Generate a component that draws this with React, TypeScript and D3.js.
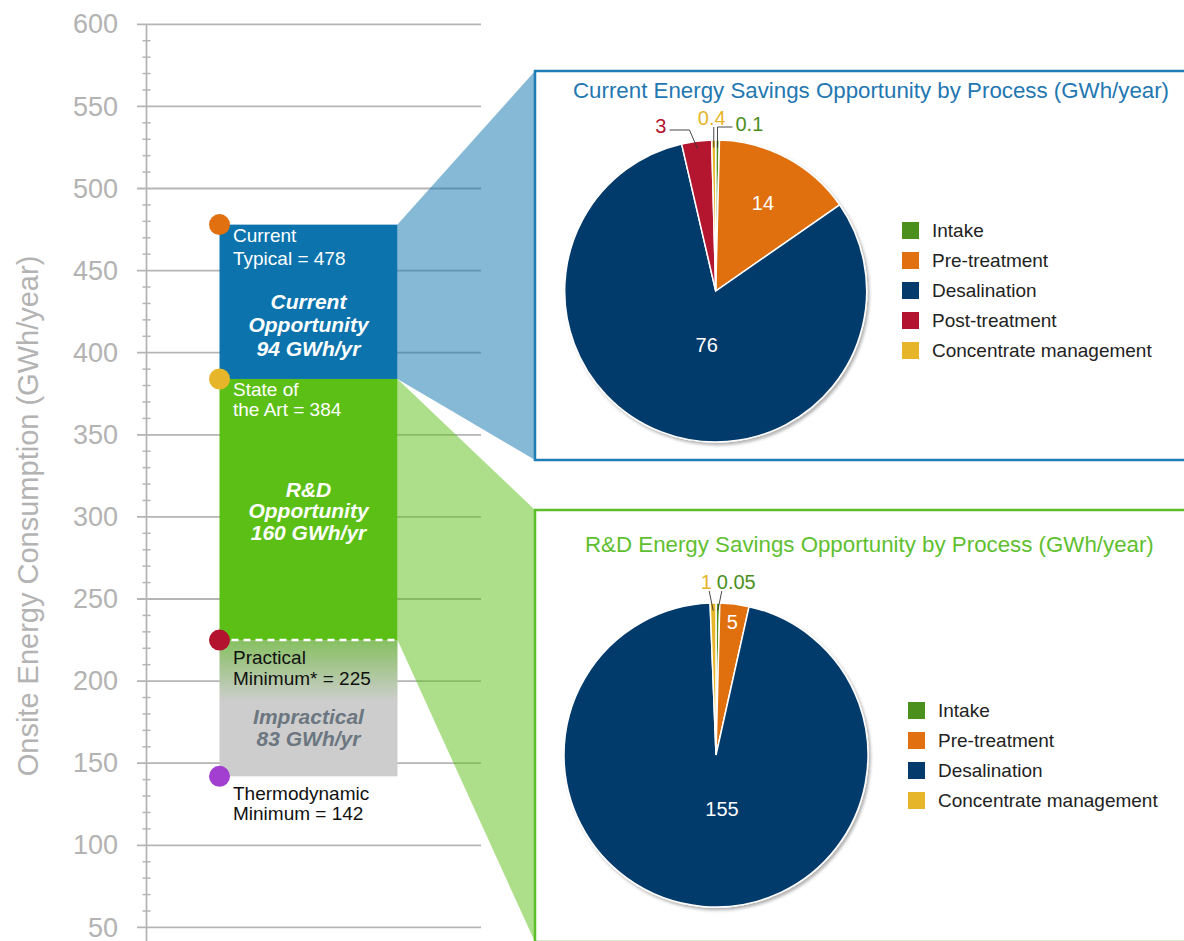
import React from "react";
import * as d3 from "d3";

// left scale
const yTicks = [50, 100, 150, 200, 250, 300, 350, 400, 450, 500, 550, 600];
const yMinorStep = 10;

// bar levels (GWh/year)
const levelKeys = ["current", "stateOfArt", "practical", "thermo"];
const levelValues = [478, 384, 225, 142];
const levelLines = [
  ["Current", "Typical = 478"],
  ["State of", "the Art = 384"],
  ["Practical", "Minimum* = 225"],
  ["Thermodynamic", "Minimum = 142"],
];
const bandLines = [
  ["Current", "Opportunity", "94 GWh/yr"],
  ["R&D", "Opportunity", "160 GWh/yr"],
  ["Impractical", "83 GWh/yr"],
];

// pies
const currentProcesses = ["Intake", "Pre-treatment", "Desalination", "Post-treatment", "Concentrate management"];
const currentSavings = [0.1, 14, 76, 3, 0.4];
const currentLabels = ["0.1", "14", "76", "3", "0.4"];
const rdProcesses = ["Intake", "Pre-treatment", "Desalination", "Concentrate management"];
const rdSavings = [0.05, 5, 155, 1];
const rdLabels = ["0.05", "5", "155", "1"];

const processColors: Record<string, string> = {
  Intake: "#4b8f1d",
  "Pre-treatment": "#e07010",
  Desalination: "#053b6c",
  "Post-treatment": "#b3132f",
  "Concentrate management": "#e6b52a",
};

const levelColors = ["#e07010", "#e6b52a", "#b3132f", "#a23fd0"];
const BLUE = "#0c73ad";
const GREEN = "#5cbf16";
const FONT = "'Liberation Sans', Arial, sans-serif";

// leader-line styling for the small outside labels
const outsideStyle: Record<string, Record<string, any>> = {
  current: {
    "Post-treatment": { kx: -8, ky: 10, arm: -20, anchor: "end", tx: -3, ty: 3 },
    "Concentrate management": { kx: 0, ky: 13, arm: 0, anchor: "middle", tx: -2, ty: -2 },
    Intake: { kx: 0, ky: 13, arm: 15, anchor: "start", tx: 3, ty: 4 },
  },
  rd: {
    "Concentrate management": { kx: -4, ky: 12, arm: 0, anchor: "middle", tx: -3, ty: -2 },
    Intake: { kx: 4, ky: 12, arm: 0, anchor: "start", tx: -5, ty: -2 },
  },
};

function Pie({ id, cx, cy, r, names, values, labels }) {
  const total = d3.sum(values);
  const shown = values.map((v) => Math.max(v, total * 0.004));
  const arcs = d3.pie<number>().sort(null).value((d) => d)(shown);
  const arc = d3.arc<any>().innerRadius(0).outerRadius(r);
  const style = outsideStyle[id];
  return (
    <g transform={`translate(${cx},${cy})`}>
      <g filter="url(#pieShadow)">
        {arcs.map((a, i) => (
          <path key={i} d={arc(a) || ""} fill={processColors[names[i]]} stroke="#fff" strokeWidth={1.5} />
        ))}
      </g>
      {arcs.map((a, i) => {
        const frac = (a.endAngle - a.startAngle) / (2 * Math.PI);
        const mid = (a.startAngle + a.endAngle) / 2;
        const name = names[i];
        const s = style[name];
        if (!s) {
          const k = frac > 0.5 ? 0.36 : frac > 0.1 ? 0.66 : 0.88;
          const ang = frac > 0.5 ? mid - 0.2 : mid;
          return (
            <text key={i} x={Math.sin(ang) * r * k} y={-Math.cos(ang) * r * k} dy="0.35em"
              textAnchor="middle" fill="#fff" fontSize={20} fontFamily={FONT}>
              {labels[i]}
            </text>
          );
        }
        const px = Math.sin(mid) * r * 0.95;
        const py = -Math.cos(mid) * r * 0.95;
        const kx = px + s.kx;
        const ky = -r - s.ky;
        const ex = kx + s.arm;
        return (
          <g key={i}>
            <polyline points={`${px},${py} ${kx},${ky} ${ex},${ky}`} fill="none" stroke="#333" strokeWidth={0.9} />
            <text x={ex + s.tx} y={ky + s.ty} textAnchor={s.anchor} fill={processColors[name]}
              fontSize={20} fontFamily={FONT}>
              {labels[i]}
            </text>
          </g>
        );
      })}
    </g>
  );
}

function Legend({ x, y, names }) {
  return (
    <g transform={`translate(${x},${y})`}>
      {names.map((n, i) => (
        <g key={n} transform={`translate(0,${i * 30})`}>
          <rect width={17} height={17} fill={processColors[n]} />
          <text x={30} y={15} fontSize={19} fill="#222" fontFamily={FONT}>{n}</text>
        </g>
      ))}
    </g>
  );
}

export default function App() {
  const W = 1184;
  const H = 941;
  const y = d3.scaleLinear().domain([50, 600]).range([927.4, 24.3]);
  const axisX = 146.5;
  const gridX0 = 137;
  const gridX1 = 481;
  const barX0 = 219.5;
  const barX1 = 397.5;
  const boxX = 535;
  const box1 = { y0: 71, y1: 460 };
  const box2 = { y0: 510, y1: 942 };
  const minor = d3.range(50, 601, yMinorStep).filter((v) => v % 50 !== 0);
  const [cur, sota, prac, thermo] = levelValues;
  const midX = (barX0 + barX1) / 2;

  return (
    <svg width={W} height={H} style={{ position: "absolute", left: 0, top: 0, background: "#fff" }} fontFamily={FONT}>
      <defs>
        <filter id="pieShadow" x="-10%" y="-10%" width="120%" height="120%">
          <feDropShadow dx={2} dy={2.5} stdDeviation={1.8} floodColor="#000" floodOpacity={0.3} />
        </filter>
        <linearGradient id="impractical" x1="0" y1="0" x2="0" y2="1">
          <stop offset="0%" stopColor="#86c060" />
          <stop offset="45%" stopColor="#cdcdcd" />
          <stop offset="100%" stopColor="#cdcdcd" />
        </linearGradient>
      </defs>

      {/* grid and axis */}
      {yTicks.map((t) => (
        <g key={t}>
          <line x1={gridX0} x2={gridX1} y1={y(t)} y2={y(t)} stroke="#b5b5b5" strokeWidth={1.8} />
          <text x={118} y={y(t)} dy="0.34em" textAnchor="end" fontSize={27} fill="#b3b3b3">{t}</text>
        </g>
      ))}
      {minor.map((t) => (
        <line key={t} x1={axisX - 4} x2={axisX + 4} y1={y(t)} y2={y(t)} stroke="#b5b5b5" strokeWidth={1.5} />
      ))}
      <line x1={axisX} x2={axisX} y1={y(600)} y2={H} stroke="#b5b5b5" strokeWidth={1.8} />
      <text transform={`translate(38,516) rotate(-90)`} textAnchor="middle" fontSize={29} fill="#b3b3b3">
        Onsite Energy Consumption (GWh/year)
      </text>

      {/* callouts to the pie boxes */}
      <polygon points={`${barX1},${y(cur)} ${boxX},${box1.y0} ${boxX},${box1.y1} ${barX1},${y(sota)}`}
        fill={BLUE} fillOpacity={0.5} />
      <polygon points={`${barX1},${y(sota)} ${boxX},${box2.y0} ${boxX},${box2.y1} ${barX1},${y(prac)}`}
        fill={GREEN} fillOpacity={0.5} />

      {/* bars */}
      <rect x={barX0} y={y(cur)} width={barX1 - barX0} height={y(sota) - y(cur)} fill={BLUE} />
      <rect x={barX0} y={y(sota)} width={barX1 - barX0} height={y(prac) - y(sota)} fill={GREEN} />
      <rect x={barX0} y={y(prac)} width={barX1 - barX0} height={y(thermo) - y(prac)} fill="url(#impractical)" />
      <line x1={barX0} x2={barX1} y1={y(prac)} y2={y(prac)} stroke="#fff" strokeWidth={2.5} strokeDasharray="7 5" />

      {levelValues.map((v, i) => (
        <circle key={levelKeys[i]} cx={barX0} cy={y(v)} r={10.5} fill={levelColors[i]} />
      ))}

      {/* level labels */}
      {levelValues.map((v, i) => {
        const tops = [17, 17, 24, 24];
        const gaps = [23, 20, 20.5, 20];
        const fills = ["#fff", "#fff", "#111", "#111"];
        return (
          <text key={levelKeys[i]} x={233} y={y(v) + tops[i]} fontSize={19} fill={fills[i]}>
            {levelLines[i].map((l, j) => (
              <tspan key={j} x={233} dy={j === 0 ? 0 : gaps[i]}>{l}</tspan>
            ))}
          </text>
        );
      })}

      {/* band labels */}
      {[
        { top: y(cur) + 84, gap: 23.5, fill: "#fff" },
        { top: y(sota) + 118, gap: 21.5, fill: "#fff" },
        { top: y(prac) + 84, gap: 22, fill: "#6b7680" },
      ].map((b, i) => (
        <text key={i} x={midX} y={b.top} textAnchor="middle" fontSize={21} fontWeight="bold"
          fontStyle="italic" fill={b.fill}>
          {bandLines[i].map((l, j) => (
            <tspan key={j} x={midX} dy={j === 0 ? 0 : b.gap}>{l}</tspan>
          ))}
        </text>
      ))}

      {/* pie boxes */}
      <rect x={boxX} y={box1.y0} width={W} height={box1.y1 - box1.y0} fill="#fff" stroke="#1f7db5" strokeWidth={2.5} />
      <rect x={boxX} y={box2.y0} width={W} height={box2.y1 - box2.y0} fill="#fff" stroke="#5cbf2a" strokeWidth={2.5} />

      <text x={573} y={98} fontSize={22.3} fill="#2377b1">Current Energy Savings Opportunity by Process (GWh/year)</text>
      <text x={585} y={552} fontSize={22.3} fill="#5fbf30">R&amp;D Energy Savings Opportunity by Process (GWh/year)</text>

      <Pie id="current" cx={715.7} cy={291} r={151} names={currentProcesses} values={currentSavings} labels={currentLabels} />
      <Pie id="rd" cx={716} cy={755} r={152} names={rdProcesses} values={rdSavings} labels={rdLabels} />

      <Legend x={902} y={222} names={currentProcesses} />
      <Legend x={908} y={702} names={rdProcesses} />
    </svg>
  );
}
